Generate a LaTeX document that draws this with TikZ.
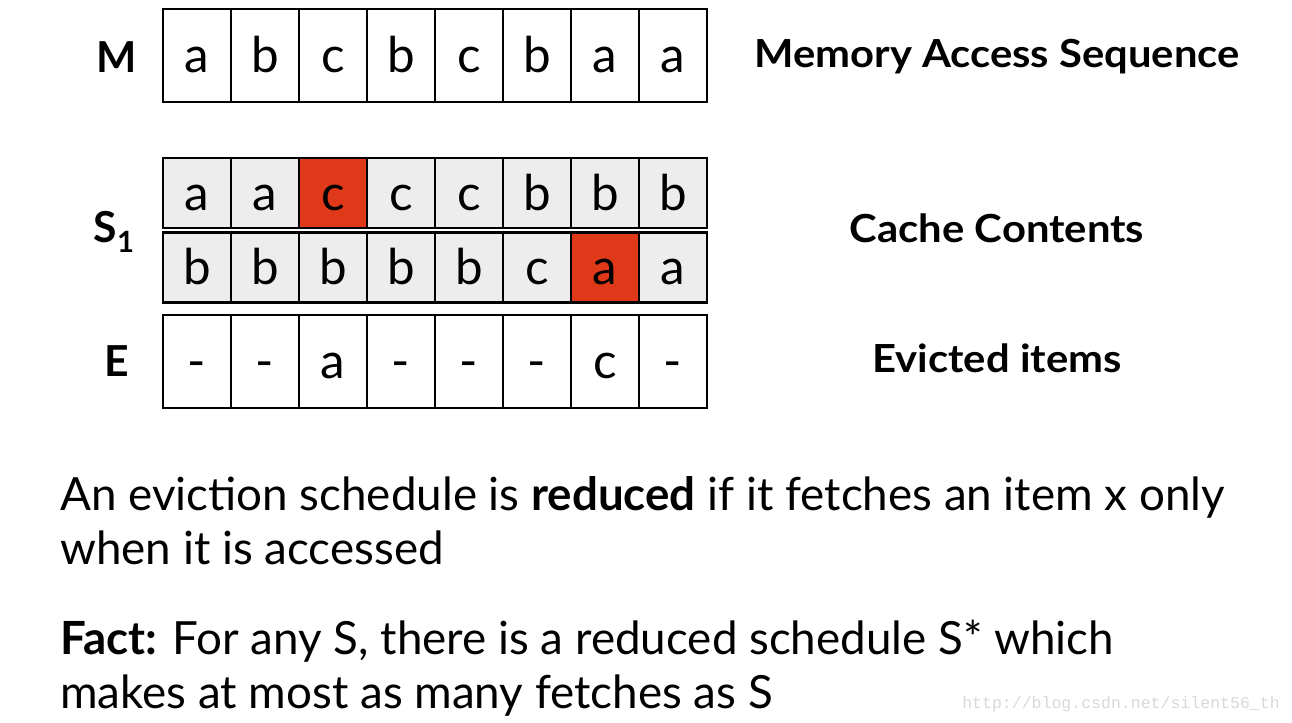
\documentclass[tikz,border=0pt]{standalone}
\usepackage{fontspec}
\setmainfont{Lato}
\newfontfamily\wmfont{Liberation Mono}
\definecolor{cellred}{HTML}{E0391A}
\definecolor{cellgray}{HTML}{EDEDED}
\definecolor{wmgray}{HTML}{D8D8D8}
\begin{document}
\begin{tikzpicture}[x=0.75pt,y=-0.75pt,
  cell/.style={draw=black, line width=2.2pt, minimum width=51pt, inner sep=0pt,
    text height=26pt, text depth=0pt, font=\fontsize{37}{37}\selectfont},
  tall/.style={cell, minimum height=69.75pt},
  short/.style={cell, minimum height=52.5pt, fill=cellgray},
  hot/.style={fill=cellred},
  rowlabel/.style={font=\fontsize{32}{32}\selectfont\bfseries, anchor=base},
  sidelabel/.style={font=\fontsize{29}{29}\selectfont\bfseries, anchor=base, xscale=1.08},
  body/.style={font=\fontsize{34.3}{34.3}\selectfont, anchor=base west, inner sep=0pt}]
\useasboundingbox (0,0) rectangle (1292,722);
% row labels
\node[rowlabel] (lM) at (117,72) {M};
\node[rowlabel] (lS) at (114,242) {S\raisebox{-0.25em}{\fontsize{22}{22}\selectfont 1}};
\node[rowlabel] (lE) at (117,376) {E};
% M row
\foreach \t [count=\i] in {a,b,c,b,c,b,a,a}
  \node[tall] (m\i) at ({197+68*(\i-1)},55.5) {\t};
% S1 top row
\foreach \t/\s [count=\i] in {a/,a/,c/hot,c/,c/,b/,b/,b/}
  \node[short,\s] (st\i) at ({197+68*(\i-1)},193) {\t};
% S1 bottom row
\foreach \t/\s [count=\i] in {b/,b/,b/,b/,b/,c/,a/hot,a/}
  \node[short,\s] (sb\i) at ({197+68*(\i-1)},267.5) {\t};
% E row
\foreach \t [count=\i] in {-,-,a,-,-,-,c,-}
  \node[tall] (e\i) at ({197+68*(\i-1)},361.5) {\t};
% side labels
\node[sidelabel] (tM) at (997,67) {Memory Access Sequence};
\node[sidelabel] (tS) at (997,242) {Cache Contents};
\node[sidelabel] (tE) at (997,372) {Evicted items};
% body text
\node[body] (b1) at (60,510) {An eviction schedule is \textbf{reduced} if it fetches an item x only};
\node[body] (b2) at (60,564) {when it is accessed};
\node[body] (b3) at (60,654) {\textbf{Fact:} For any S, there is a reduced schedule S* which};
\node[body] (b4) at (60,708) {makes at most as many fetches as S};
% watermark
\node[font=\wmfont\fontsize{12.4}{12.4}\selectfont, text=wmgray, anchor=base east, inner sep=0pt] (wm) at (1280,708) {http://blog.csdn.net/silent56\_th};
\end{tikzpicture}
\end{document}
